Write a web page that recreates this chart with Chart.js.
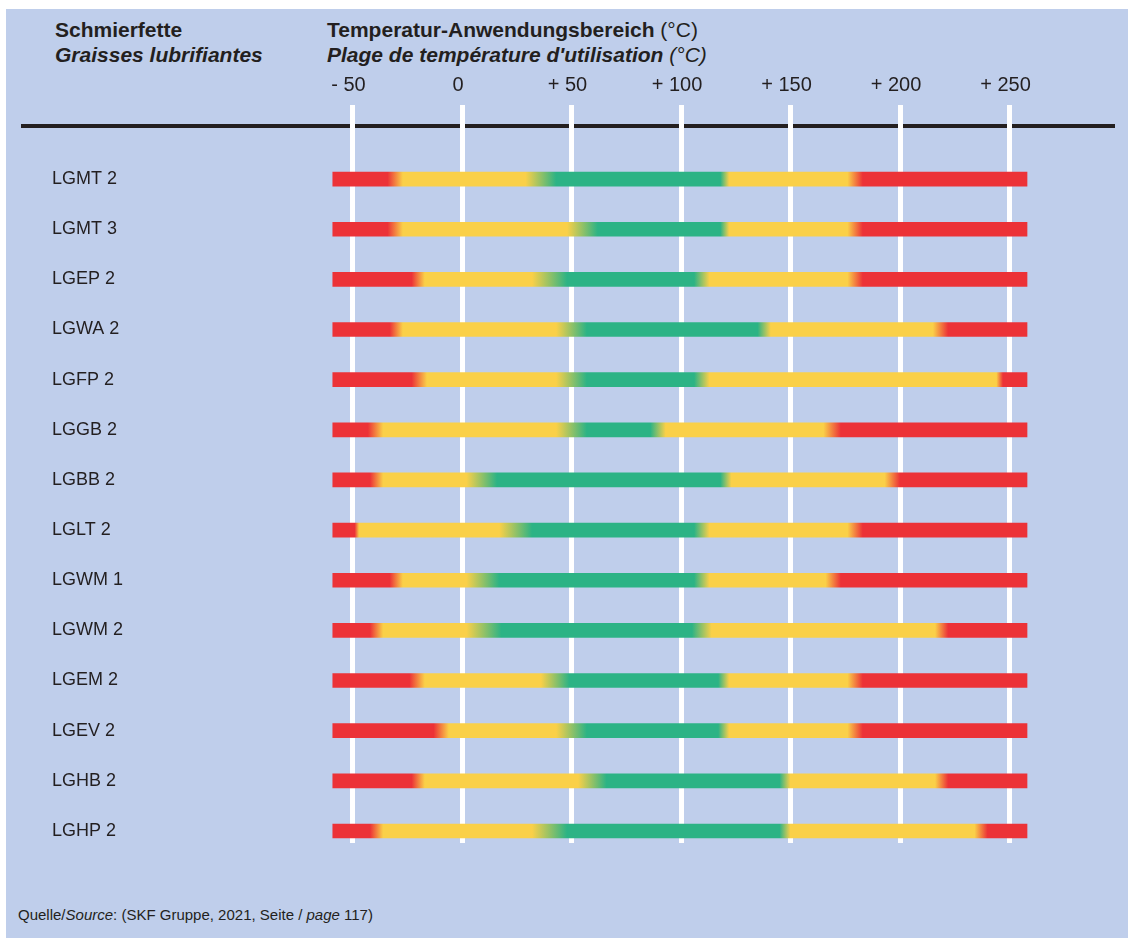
<!DOCTYPE html>
<html><head><meta charset="utf-8">
<script src="https://cdn.jsdelivr.net/npm/chart.js@4.4.1/dist/chart.umd.min.js"></script>
<style>
html,body{margin:0;padding:0;background:#fff;width:1128px;height:938px;overflow:hidden;font-family:"Liberation Sans",Arial,Helvetica,sans-serif;color:#231F20}
#panel{position:absolute;left:6px;top:9px;width:1122px;height:929px;background:#BFCEEB}
#rule{position:absolute;left:21px;top:124px;width:1094px;height:4px;background:#231F20}
#wrap{position:absolute;left:0;top:0;width:1128px;height:938px}
.t{position:absolute;white-space:nowrap;line-height:1;font-size:21px}
.b{font-weight:bold}
.i{font-style:italic}
.n{font-weight:normal}
#src{position:absolute;left:18px;top:907px;font-size:15px;line-height:1;white-space:nowrap}
</style></head><body>
<div id="panel"></div>
<div id="rule"></div>
<div class="t b" style="left:55px;top:19px">Schmierfette</div>
<div class="t b i" style="left:55px;top:44px">Graisses lubrifiantes</div>
<div class="t b" style="left:327px;top:19px">Temperatur-Anwendungsbereich <span class="n">(°C)</span></div>
<div class="t b i" style="left:327px;top:44px">Plage de température d'utilisation <span class="n">(°C)</span></div>
<div id="src">Quelle/<i>Source</i>: (SKF Gruppe, 2021, Seite / <i>page</i> 117)</div>
<div id="wrap"><canvas id="c" width="1128" height="938" style="width:1128px;height:938px"></canvas></div>
<script>
const greases = ['LGMT 2','LGMT 3','LGEP 2','LGWA 2','LGFP 2','LGGB 2','LGBB 2','LGLT 2','LGWM 1','LGWM 2','LGEM 2','LGEV 2','LGHB 2','LGHP 2'];
const barStart = [-59,-59,-59,-59,-59,-59,-59,-59,-59,-59,-59,-59,-59,-59];
const barEnd   = [258,258,258,258,258,258,258,258,258,258,258,258,258,258];
// transition zones (°C): [start, end] of each colour change
const redToYellow   = [[-34,-27],[-34,-27],[-23,-17],[-33,-27],[-23,-16],[-43,-36],[-42,-36],[-49,-47],[-33,-27],[-42,-36],[-24,-17],[-13,-6],[-23,-17],[-42,-36]];
const yellowToGreen = [[29,43],[48,62],[32,48],[43,57],[43,57],[43,57],[2,16],[17,32],[2,17],[2,18],[36,49],[43,57],[53,66],[32,48]];
const greenToYellow = [[118,122],[118,122],[106,113],[135,141],[106,113],[86,93],[118,123],[106,113],[106,113],[105,114],[117,122],[117,122],[145,150],[145,150]];
const yellowToRed   = [[176,183],[176,183],[176,183],[215,222],[244,247],[165,173],[193,200],[176,183],[166,173],[216,222],[176,183],[176,183],[216,222],[234,240]];
const tickValues = [-50,0,50,100,150,200,250];
const tickLabels = ['- 50','0','+ 50','+ 100','+ 150','+ 200','+ 250'];

const RED = '#EC3237', YELLOW = '#FAD048', GREEN = '#2CB385';
const FONT = '"Liberation Sans", Arial, Helvetica, sans-serif';
const INK = '#231F20';

function rowFill(ctx) {
  const chart = ctx.chart;
  const xs = chart.scales && chart.scales.x;
  const i = ctx.dataIndex;
  if (!xs || i === undefined) return RED;
  const x0 = xs.getPixelForValue(barStart[i]);
  const x1 = xs.getPixelForValue(barEnd[i]);
  if (!isFinite(x0) || !isFinite(x1) || x1 - x0 <= 1) return RED;
  const g = chart.ctx.createLinearGradient(x0, 0, x1, 0);
  const pos = v => Math.min(1, Math.max(0, (xs.getPixelForValue(v) - x0) / (x1 - x0)));
  const stops = [
    [barStart[i], RED],
    [redToYellow[i][0], RED], [redToYellow[i][1], YELLOW],
    [yellowToGreen[i][0], YELLOW], [yellowToGreen[i][1], GREEN],
    [greenToYellow[i][0], GREEN], [greenToYellow[i][1], YELLOW],
    [yellowToRed[i][0], YELLOW], [yellowToRed[i][1], RED],
    [barEnd[i], RED]
  ];
  stops.forEach(s => g.addColorStop(pos(s[0]), s[1]));
  return g;
}

new Chart(document.getElementById('c'), {
  type: 'bar',
  data: {
    datasets: [{
      data: greases.map((_, i) => ({ x: [barStart[i], barEnd[i]], y: i })),
      backgroundColor: rowFill,
      borderWidth: 0,
      barThickness: 14
    }]
  },
  options: {
    indexAxis: 'y',
    responsive: false,
    animation: false,
    layout: { padding: { left: 52, right: 96.6, top: 65, bottom: 95 } },
    plugins: { legend: { display: false }, tooltip: { enabled: false } },
    scales: {
      x: {
        type: 'linear', position: 'top', min: -60, max: 260, z: 1,
        grid: { color: '#FFFFFF', lineWidth: 5, tickLength: 49, drawTicks: true },
        border: { display: false },
        ticks: {
          stepSize: 50, includeBounds: false, autoSkip: false, maxRotation: 0,
          padding: 8, labelOffset: -4, color: INK,
          font: { family: FONT, size: 20 },
          callback: v => { const k = tickValues.indexOf(v); return k >= 0 ? tickLabels[k] : ''; }
        }
      },
      y: {
        type: 'linear', position: 'left', reverse: true, offset: false, min: -0.5, max: 13.24,
        afterFit: s => { s.width = 278.6; },
        grid: { display: false }, border: { display: false },
        ticks: {
          stepSize: 1, includeBounds: false, autoSkip: false, crossAlign: 'far', padding: 0,
          color: INK, font: { family: FONT, size: 18 },
          callback: v => (Number.isInteger(v) && greases[v] !== undefined) ? greases[v] : ''
        }
      }
    }
  }
});
</script>
</body></html>
